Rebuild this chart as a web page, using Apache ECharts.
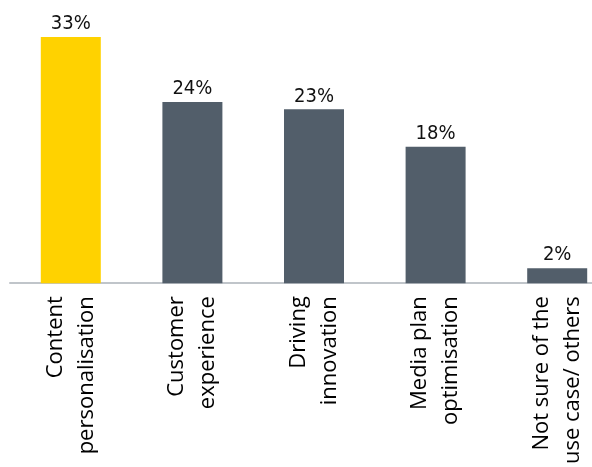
<!DOCTYPE html>
<html>
<head>
<meta charset="utf-8">
<script src="https://cdn.jsdelivr.net/npm/echarts@6/dist/echarts.min.js"></script>
<style>
html,body{margin:0;padding:0;background:#fff;overflow:hidden;width:592px;height:467px;}
#chart{width:618px;height:467px;}
</style>
</head>
<body>
<div id="chart"></div>
<script>
const categories = [
  "Content\npersonalisation",
  "Customer\nexperience",
  "Driving\ninnovation",
  "Media plan\noptimisation",
  "Not sure of the\nuse case/ others"
];
const values = [33, 24.3, 23.3, 18.3, 2.0];
const barColors = ["#FFD200", "#525E6A", "#525E6A", "#525E6A", "#525E6A"];

const chart = echarts.init(document.getElementById('chart'), null, {renderer: 'canvas'});
chart.setOption({
  animation: false,
  grid: {left: 10, right: 0, top: 37, bottom: 183, containLabel: false},
  xAxis: {
    type: 'category',
    data: categories,
    axisLine: {show: true, lineStyle: {color: '#C0C5CA', width: 2}},
    axisTick: {show: false},
    axisLabel: {
      rotate: 90,
      interval: 0,
      margin: 13,
      fontFamily: 'Open Sans',
      fontSize: 22,
      lineHeight: 31,
      color: '#000000'
    }
  },
  yAxis: {
    type: 'value',
    min: 0,
    max: 33,
    show: false,
    splitLine: {show: false}
  },
  series: [{
    type: 'bar',
    data: values.map((v, i) => ({value: v, itemStyle: {color: barColors[i]}})),
    barWidth: 60,
    label: {
      show: true,
      position: 'top',
      distance: 3,
      fontFamily: 'DejaVu Sans Condensed',
      fontSize: 20,
      color: '#111111',
      formatter: p => Math.round(p.value) + '%'
    }
  }]
});
</script>
</body>
</html>
